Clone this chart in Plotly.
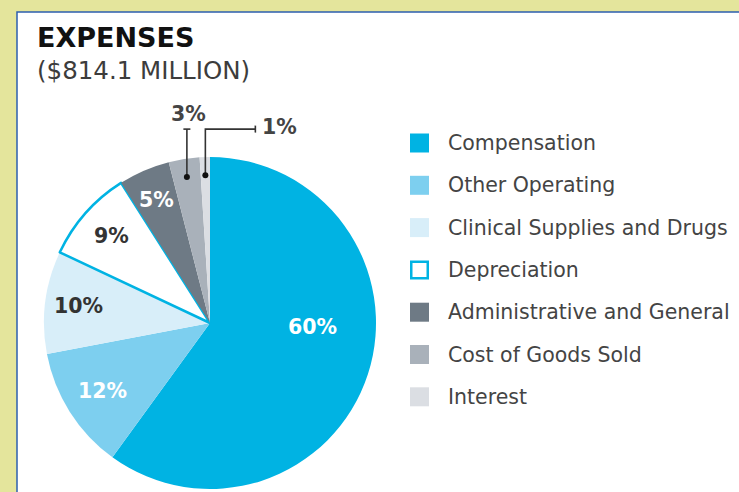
import math
import plotly.graph_objects as go

# ---- data ----
categories = ["Compensation", "Other Operating", "Clinical Supplies and Drugs",
              "Depreciation", "Administrative and General", "Cost of Goods Sold", "Interest"]
percent = [60, 12, 10, 9, 5, 3, 1]
title_text = "EXPENSES"
subtitle_text = "($814.1 MILLION)"

# ---- styles ----
fill_colors = ["#00b3e3", "#7dcfef", "#d8eef9", "#ffffff", "#6e7a85", "#a9b1ba", "#dbdee3"]
line_colors = ["#00b3e3", "#7dcfef", "#d8eef9", "#00b3e3", "#6e7a85", "#a9b1ba", "#dbdee3"]
line_widths = [0, 0, 0, 2.5, 0, 0, 0]
label_colors = ["#ffffff", "#ffffff", "#333333", "#333333", "#ffffff", "#444444", "#444444"]
label_frac = [0.62, 0.77, 0.80, 0.79, 0.81, None, None]
label_angle_shift = [-16, 0, 0, 0, 0, 0, 0]

W, H = 739, 492
CX, CY, R = 210, 323, 166


def px(x):
    return x / W


def py(y):
    return 1 - y / H


def polar(angle_deg, frac):
    a = math.radians(angle_deg)
    return CX + frac * R * math.sin(a), CY - frac * R * math.cos(a)


total = sum(percent)
mids = []
acc = 0
for v in percent:
    mids.append((acc + v / 2) / total * 360)
    acc += v

fig = go.Figure()
fig.add_trace(go.Pie(
    labels=categories, values=percent, sort=False, direction="clockwise", rotation=0,
    marker=dict(colors=fill_colors, line=dict(color=line_colors, width=line_widths)),
    textinfo="none", hoverinfo="label+percent", showlegend=False,
    domain=dict(x=[px(CX - R), px(CX + R)], y=[py(CY + R), py(CY - R)]),
))

shapes = []
annotations = []

# white panel with blue frame
shapes.append(dict(type="rect", xref="paper", yref="paper", x0=px(17), x1=1.02,
                   y0=-0.02, y1=py(12), fillcolor="#ffffff",
                   line=dict(color="#2d5fae", width=1.5), layer="below"))

# titles
annotations.append(dict(text="<b>" + title_text + "</b>", x=px(35), y=py(37), xref="paper", yref="paper",
                        xanchor="left", yanchor="middle", showarrow=False,
                        font=dict(family="DejaVu Sans", size=27, color="#111111")))
annotations.append(dict(text=subtitle_text, x=px(35), y=py(70), xref="paper", yref="paper",
                        xanchor="left", yanchor="middle", showarrow=False,
                        font=dict(family="DejaVu Sans", size=24.5, color="#3c3c3c")))

# in-slice labels
for i, v in enumerate(percent):
    if label_frac[i] is None:
        continue
    x, y = polar(mids[i] + label_angle_shift[i], label_frac[i])
    annotations.append(dict(text="<b>%d%%</b>" % v, x=px(x), y=py(y), xref="paper", yref="paper",
                            xanchor="center", yanchor="middle", showarrow=False,
                            font=dict(family="DejaVu Sans", size=20.5, color=label_colors[i])))

# leader labels for small slices
lead_col = "#333333"
top_y = CY - R * 1.168
# 3%
i3 = 5
x3, y3 = polar(mids[i3], 0.89)
shapes.append(dict(type="line", xref="paper", yref="paper", x0=px(x3), x1=px(x3), y0=py(y3), y1=py(top_y),
                   line=dict(color=lead_col, width=1.6)))
shapes.append(dict(type="line", xref="paper", yref="paper", x0=px(x3 - 3.5), x1=px(x3 + 3.5), y0=py(top_y), y1=py(top_y),
                   line=dict(color=lead_col, width=1.6)))
shapes.append(dict(type="circle", xref="paper", yref="paper", x0=px(x3 - 3), x1=px(x3 + 3), y0=py(y3 - 3), y1=py(y3 + 3),
                   fillcolor="#111111", line=dict(width=0)))
annotations.append(dict(text="<b>%d%%</b>" % percent[i3], x=px(x3 + 2), y=py(top_y - 15), xref="paper", yref="paper",
                        xanchor="center", yanchor="middle", showarrow=False,
                        font=dict(family="DejaVu Sans", size=20.5, color=label_colors[i3])))
# 1%
i1 = 6
x1, y1 = polar(mids[i1], 0.89)
end_x = x1 + 50
shapes.append(dict(type="path", xref="paper", yref="paper",
                   path="M %f,%f L %f,%f L %f,%f" % (px(x1), py(y1), px(x1), py(top_y), px(end_x), py(top_y)),
                   line=dict(color=lead_col, width=1.6)))
shapes.append(dict(type="line", xref="paper", yref="paper", x0=px(end_x), x1=px(end_x), y0=py(top_y - 3.5), y1=py(top_y + 3.5),
                   line=dict(color=lead_col, width=1.6)))
shapes.append(dict(type="circle", xref="paper", yref="paper", x0=px(x1 - 3), x1=px(x1 + 3), y0=py(y1 - 3), y1=py(y1 + 3),
                   fillcolor="#111111", line=dict(width=0)))
annotations.append(dict(text="<b>%d%%</b>" % percent[i1], x=px(end_x + 5), y=py(top_y - 2), xref="paper", yref="paper",
                        xanchor="left", yanchor="middle", showarrow=False,
                        font=dict(family="DejaVu Sans", size=20.5, color=label_colors[i1])))

# legend
LEG_X, LEG_Y0, LEG_STEP, SQ = 410, 143, 42.3, 19
for i, name in enumerate(categories):
    yc = LEG_Y0 + i * LEG_STEP
    lw = line_widths[i]
    inset = lw / 2
    shapes.append(dict(type="rect", xref="paper", yref="paper",
                       x0=px(LEG_X + inset), x1=px(LEG_X + SQ - inset),
                       y0=py(yc + SQ / 2 - inset), y1=py(yc - SQ / 2 + inset),
                       fillcolor=fill_colors[i],
                       line=dict(color=line_colors[i], width=lw)))
    annotations.append(dict(text=name, x=px(446), y=py(yc), xref="paper", yref="paper",
                            xanchor="left", yanchor="middle", showarrow=False,
                            font=dict(family="DejaVu Sans", size=20.5, color="#444444")))

fig.update_layout(width=W, height=H, margin=dict(l=0, r=0, t=0, b=0),
                  paper_bgcolor="#e4e59c", shapes=shapes, annotations=annotations)
fig.write_html("out.html", config={"displayModeBar": False},
               post_script="document.body.style.margin='0px';document.body.style.overflow='hidden';")
